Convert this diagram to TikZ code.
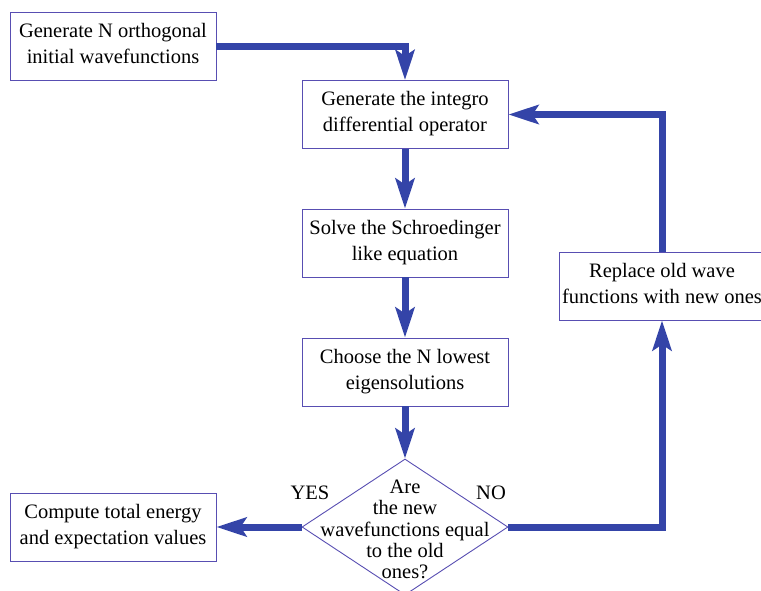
\documentclass[tikz,border=0pt]{standalone}
\usepackage{fontspec}
\setmainfont{Liberation Serif}
\usetikzlibrary{shapes.geometric,arrows.meta}
\definecolor{arrowblue}{RGB}{52,68,168}
\definecolor{boxblue}{RGB}{88,78,178}
\newcommand{\lastdp}{\rule[-6pt]{0pt}{6pt}}
\tikzset{
  procbox/.style={draw=boxblue, line width=0.9pt, minimum width=206pt, minimum height=68pt, inner sep=0pt, align=center, font=\fontsize{20.5}{26}\selectfont},
  flow/.style={draw=arrowblue, line width=7pt, -{Stealth[length=30pt,width=19pt,inset=6pt]}},
  lbl/.style={font=\fontsize{20.5}{22}\selectfont, inner sep=0pt}
}
\begin{document}
\begin{tikzpicture}[x=1pt,y=-1pt]
\useasboundingbox (0,0) rectangle (761,590);
\clip (0,0) rectangle (761,590);
\node[procbox] (init) at (113,46) {Generate N orthogonal\\initial wavefunctions\lastdp};
\node[procbox] (gen) at (405,114.5) {Generate the integro\\differential operator\lastdp};
\node[procbox] (solve) at (405,243) {Solve the Schroedinger\\like equation\lastdp};
\node[procbox] (choose) at (405,372) {Choose the N lowest\\eigensolutions\lastdp};
\node[draw=boxblue, line width=0.9pt, diamond, minimum width=206pt, minimum height=136pt, inner sep=0pt] (dec) at (405,527) {};
\node[align=center, inner sep=0pt, font=\fontsize{20.5}{21.4}\selectfont] (dectext) at (405,529.5) {Are\\the new\\wavefunctions equal\\to the old\\ones?};
\node[procbox] (comp) at (113,527) {Compute total energy\\and expectation values\lastdp};
\node[procbox] (repl) at (662,286) {Replace old wave\\functions with new ones\lastdp};
\node[lbl] (yes) at (310,493) {YES};
\node[lbl] (no) at (491,493) {NO};
\coordinate (c1) at (405,46);
\coordinate (c2) at (662,527);
\coordinate (c3) at (662,114.5);
\draw[flow] (init.east |- c1) -- (c1) -- (gen.north);
\draw[flow] (gen.south) -- (solve.north);
\draw[flow] (solve.south) -- (choose.north);
\draw[flow] (choose.south) -- (dec.north);
\draw[flow] (dec.west) -- (comp.east);
\draw[flow] (dec.east) -- (c2) -- (repl.south);
\draw[flow] (repl.north) -- (c3) -- (gen.east);
\end{tikzpicture}
\end{document}
